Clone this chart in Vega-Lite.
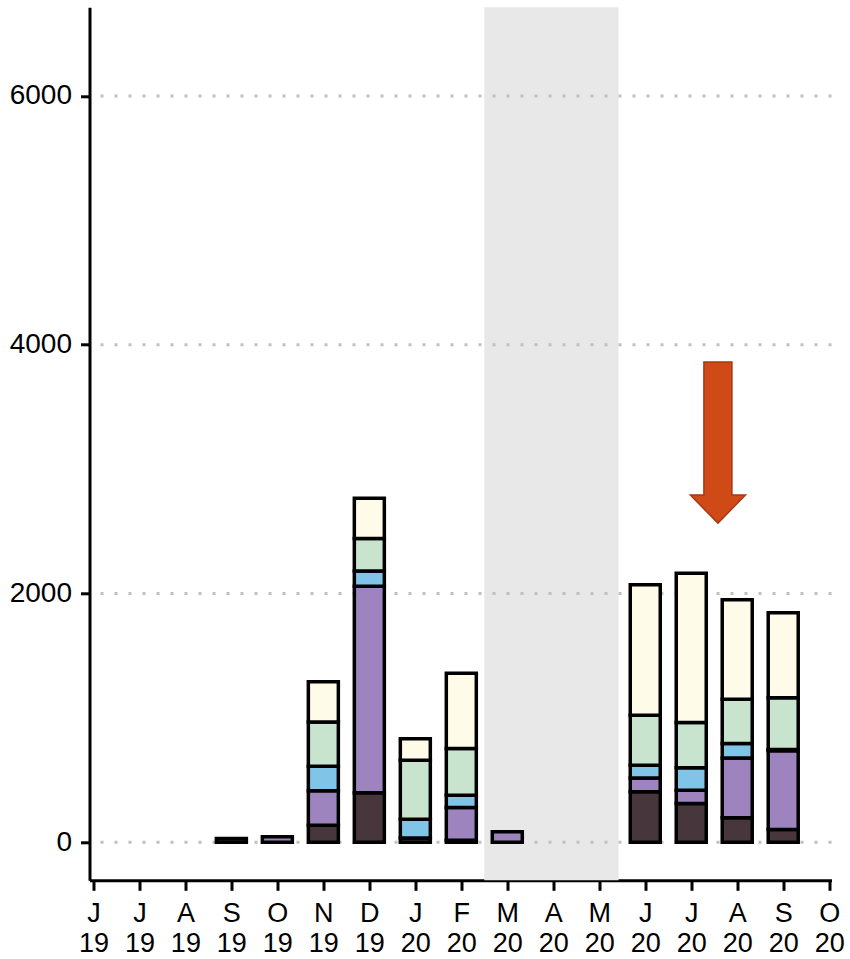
{
  "$schema": "https://vega.github.io/schema/vega-lite/v6.json",
  "autosize": {"type": "none"},
  "padding": {"left": 89.5, "top": 7.3, "right": 18.5, "bottom": 78.7},
  "width": 742,
  "height": 873,
  "datasets": {
    "band": [{"start": 8.5, "end": 11.42}],
    "grid": [{"y": 0}, {"y": 2000}, {"y": 4000}, {"y": 6000}],
    "arrow": [{"m": 13.58, "y": 3213}],
    "bars": [
      {"m": 3, "part": "a", "k": 1, "v": 30},
      {"m": 4, "part": "b", "k": 2, "v": 45},
      {"m": 5, "part": "a", "k": 1, "v": 137},
      {"m": 5, "part": "b", "k": 2, "v": 276},
      {"m": 5, "part": "c", "k": 3, "v": 198},
      {"m": 5, "part": "d", "k": 4, "v": 356},
      {"m": 5, "part": "e", "k": 5, "v": 324},
      {"m": 6, "part": "a", "k": 1, "v": 397},
      {"m": 6, "part": "b", "k": 2, "v": 1662},
      {"m": 6, "part": "c", "k": 3, "v": 121},
      {"m": 6, "part": "d", "k": 4, "v": 263},
      {"m": 6, "part": "e", "k": 5, "v": 322},
      {"m": 7, "part": "a", "k": 1, "v": 35},
      {"m": 7, "part": "c", "k": 3, "v": 150},
      {"m": 7, "part": "d", "k": 4, "v": 475},
      {"m": 7, "part": "e", "k": 5, "v": 172},
      {"m": 8, "part": "a", "k": 1, "v": 16},
      {"m": 8, "part": "b", "k": 2, "v": 263},
      {"m": 8, "part": "c", "k": 3, "v": 99},
      {"m": 8, "part": "d", "k": 4, "v": 376},
      {"m": 8, "part": "e", "k": 5, "v": 604},
      {"m": 9, "part": "b", "k": 2, "v": 85},
      {"m": 12, "part": "a", "k": 1, "v": 405},
      {"m": 12, "part": "b", "k": 2, "v": 112},
      {"m": 12, "part": "c", "k": 3, "v": 102},
      {"m": 12, "part": "d", "k": 4, "v": 402},
      {"m": 12, "part": "e", "k": 5, "v": 1049},
      {"m": 13, "part": "a", "k": 1, "v": 311},
      {"m": 13, "part": "b", "k": 2, "v": 107},
      {"m": 13, "part": "c", "k": 3, "v": 180},
      {"m": 13, "part": "d", "k": 4, "v": 365},
      {"m": 13, "part": "e", "k": 5, "v": 1199},
      {"m": 14, "part": "a", "k": 1, "v": 196},
      {"m": 14, "part": "b", "k": 2, "v": 482},
      {"m": 14, "part": "c", "k": 3, "v": 116},
      {"m": 14, "part": "d", "k": 4, "v": 356},
      {"m": 14, "part": "e", "k": 5, "v": 800},
      {"m": 15, "part": "a", "k": 1, "v": 102},
      {"m": 15, "part": "b", "k": 2, "v": 633},
      {"m": 15, "part": "c", "k": 3, "v": 10},
      {"m": 15, "part": "d", "k": 4, "v": 416},
      {"m": 15, "part": "e", "k": 5, "v": 684}
    ]
  },
  "layer": [
    {
      "data": {"name": "band"},
      "mark": {"type": "rect", "color": "#e8e8e8"},
      "encoding": {
        "x": {
          "field": "start",
          "type": "quantitative",
          "scale": {"domain": [-0.085, 16.05], "nice": false, "zero": false, "padding": 0},
          "axis": {
            "title": null,
            "values": [0, 1, 2, 3, 4, 5, 6, 7, 8, 9, 10, 11, 12, 13, 14, 15, 16],
            "labelExpr": "[substring('JJASONDJFMAMJJASO', datum.value, datum.value + 1), datum.value < 7 ? '19' : '20']"
          }
        },
        "x2": {"field": "end"}
      }
    },
    {
      "data": {"name": "grid"},
      "mark": {"type": "rule", "color": "#c0c0c0", "strokeWidth": 3, "strokeDash": [3, 11]},
      "encoding": {
        "y": {
          "field": "y",
          "type": "quantitative",
          "scale": {"domain": [-306, 6713], "nice": false, "zero": false},
          "axis": {"title": null, "values": [0, 2000, 4000, 6000], "format": "d"}
        }
      }
    },
    {
      "data": {"name": "bars"},
      "mark": {"type": "bar", "width": 30, "stroke": "black", "strokeWidth": 3.5},
      "encoding": {
        "x": {
          "field": "m",
          "type": "quantitative",
          "scale": {"domain": [-0.085, 16.05], "nice": false, "zero": false, "padding": 0},
          "axis": {
            "title": null,
            "values": [0, 1, 2, 3, 4, 5, 6, 7, 8, 9, 10, 11, 12, 13, 14, 15, 16],
            "labelExpr": "[substring('JJASONDJFMAMJJASO', datum.value, datum.value + 1), datum.value < 7 ? '19' : '20']"
          }
        },
        "y": {
          "field": "v",
          "type": "quantitative",
          "stack": "zero",
          "scale": {"domain": [-306, 6713], "nice": false, "zero": false},
          "axis": {"title": null, "values": [0, 2000, 4000, 6000], "format": "d"}
        },
        "color": {
          "field": "part",
          "type": "nominal",
          "scale": {
            "domain": ["a", "b", "c", "d", "e"],
            "range": ["#48363d", "#9d84bf", "#80c4e8", "#c9e4ce", "#fefbe8"]
          },
          "legend": null
        },
        "order": {"field": "k", "type": "quantitative"}
      }
    },
    {
      "data": {"name": "arrow"},
      "mark": {
        "type": "point",
        "shape": "M -0.174 -1 L 0.174 -1 L 0.174 0.652 L 0.342 0.652 L 0 1 L -0.342 0.652 L -0.174 0.652 Z",
        "size": 25921,
        "filled": true,
        "fill": "#d04a17",
        "stroke": "#a33a13",
        "strokeWidth": 1.5,
        "opacity": 1
      },
      "encoding": {
        "x": {
          "field": "m",
          "type": "quantitative",
          "scale": {"domain": [-0.085, 16.05], "nice": false, "zero": false, "padding": 0},
          "axis": {
            "title": null,
            "values": [0, 1, 2, 3, 4, 5, 6, 7, 8, 9, 10, 11, 12, 13, 14, 15, 16],
            "labelExpr": "[substring('JJASONDJFMAMJJASO', datum.value, datum.value + 1), datum.value < 7 ? '19' : '20']"
          }
        },
        "y": {
          "field": "y",
          "type": "quantitative",
          "scale": {"domain": [-306, 6713], "nice": false, "zero": false},
          "axis": {"title": null, "values": [0, 2000, 4000, 6000], "format": "d"}
        }
      }
    }
  ],
  "config": {
    "view": {"stroke": null},
    "font": "Liberation Sans",
    "axis": {
      "grid": false,
      "domainColor": "black",
      "domainWidth": 3,
      "tickColor": "black",
      "tickWidth": 3,
      "labelColor": "black",
      "labelFont": "Liberation Sans"
    },
    "axisX": {
      "tickSize": 10,
      "labelFontSize": 27,
      "labelLineHeight": 30,
      "labelPadding": 10,
      "labelFlush": false,
      "labelOverlap": false
    },
    "axisY": {
      "tickSize": 9,
      "labelFontSize": 28,
      "labelPadding": 9
    }
  }
}
